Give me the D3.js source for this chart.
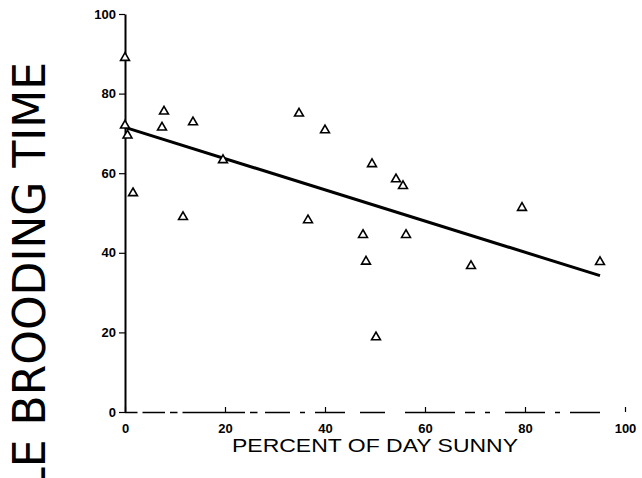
<!DOCTYPE html>
<html>
<head>
<meta charset="utf-8">
<script src="https://cdn.jsdelivr.net/npm/d3@7/dist/d3.min.js"></script>
<style>
  html, body { margin: 0; padding: 0; background: #fff; }
  svg { display: block; }
</style>
</head>
<body>
<svg id="chart" width="642" height="478"></svg>
<script>
// Percent of the day that was sunny, one entry per observation
const sunny = [0, 0, 0.5, 1.6, 7.8, 7.4, 13.6, 11.6, 19.6, 34.8, 40, 36.6, 47.6, 49.4, 54.2, 55.6, 56.2, 48.2, 69.2, 79.4, 95, 50.2];
// Brooding time (%) for the same observations
const brooding = [89, 72, 69.5, 55, 75.5, 71.5, 72.8, 49, 63.3, 75, 70.8, 48.2, 44.5, 62.3, 58.5, 56.8, 44.5, 37.8, 36.7, 51.3, 37.7, 18.8];
// Fitted regression line: intercept, slope and x extent
const fitIntercept = 71.5;
const fitSlope = -0.392;
const fitRange = [0, 95];
// Axis tick values
const xTicks = [0, 20, 40, 60, 80, 100];
const yTicks = [0, 20, 40, 60, 80, 100];

const svg = d3.select("#chart");
const x = d3.scaleLinear().domain([0, 100]).range([125, 625]);
const y = d3.scaleLinear().domain([0, 100]).range([412, 14]);

const tickFont = "'Liberation Sans', Arial, sans-serif";

// Broken x baseline, drawn as one path of separate pieces (in axis units)
const baselinePieces = [[0, 2.5], [3.5, 8], [9, 10.5], [11.5, 24], [25, 26.5], [28, 33], [35, 36], [38, 44], [47, 52], [56, 66], [68, 70], [72, 73], [76, 84], [86, 87], [89, 95]];
const baseY = Math.round(y(0)) + 0.5;
svg.append("path")
  .attr("d", baselinePieces.map(p => `M${x(p[0])},${baseY}H${x(p[1])}`).join(""))
  .attr("fill", "none")
  .attr("stroke", "#000").attr("stroke-width", 1.5);

// Y axis: solid spine with outward ticks
const yAxis = d3.axisLeft(y).tickValues(yTicks).tickSize(6).tickPadding(3).tickSizeOuter(0);
const gy = svg.append("g").attr("transform", `translate(${x(0)},0)`).call(yAxis);
gy.select(".domain").attr("stroke", "#000").attr("stroke-width", 2);
gy.selectAll(".tick line").attr("stroke", "#000").attr("stroke-width", 1.2);
gy.selectAll(".tick text")
  .attr("font-family", tickFont).attr("font-weight", "bold").attr("font-size", 13)
  .attr("fill", "#000");

// X axis: small inward ticks with labels below
const xAxis = d3.axisBottom(x).tickValues(xTicks).tickSize(-5).tickPadding(12).tickSizeOuter(0);
const gx = svg.append("g").attr("transform", `translate(0,${y(0)})`).call(xAxis);
gx.select(".domain").remove();
gx.selectAll(".tick line").attr("stroke", "#000").attr("stroke-width", 1.2);
gx.selectAll(".tick text")
  .attr("font-family", tickFont).attr("font-weight", "bold").attr("font-size", 13)
  .attr("fill", "#000");

// Regression line
svg.append("line")
  .attr("x1", x(fitRange[0])).attr("y1", y(fitIntercept + fitSlope * fitRange[0]))
  .attr("x2", x(fitRange[1])).attr("y2", y(fitIntercept + fitSlope * fitRange[1]))
  .attr("stroke", "#000").attr("stroke-width", 3);

// Observations as open triangles
const tri = d3.symbol().type(d3.symbolTriangle).size(34);
svg.append("g").selectAll("path")
  .data(sunny.map((s, i) => [s, brooding[i]]))
  .join("path")
  .attr("d", tri)
  .attr("transform", d => `translate(${x(d[0])},${y(d[1])})`)
  .attr("fill", "#fff").attr("stroke", "#000").attr("stroke-width", 1.6);

// Axis titles
svg.append("text")
  .attr("x", 375).attr("y", 452)
  .attr("text-anchor", "middle")
  .attr("font-family", tickFont).attr("font-size", 18)
  .attr("textLength", 286).attr("lengthAdjust", "spacingAndGlyphs")
  .text("PERCENT OF DAY SUNNY");

svg.append("text")
  .attr("transform", "translate(45,62) rotate(-90)")
  .attr("text-anchor", "end")
  .attr("font-family", "'DejaVu Sans', sans-serif").attr("font-size", 44)
  .text("MALE BROODING TIME");
</script>
</body>
</html>
